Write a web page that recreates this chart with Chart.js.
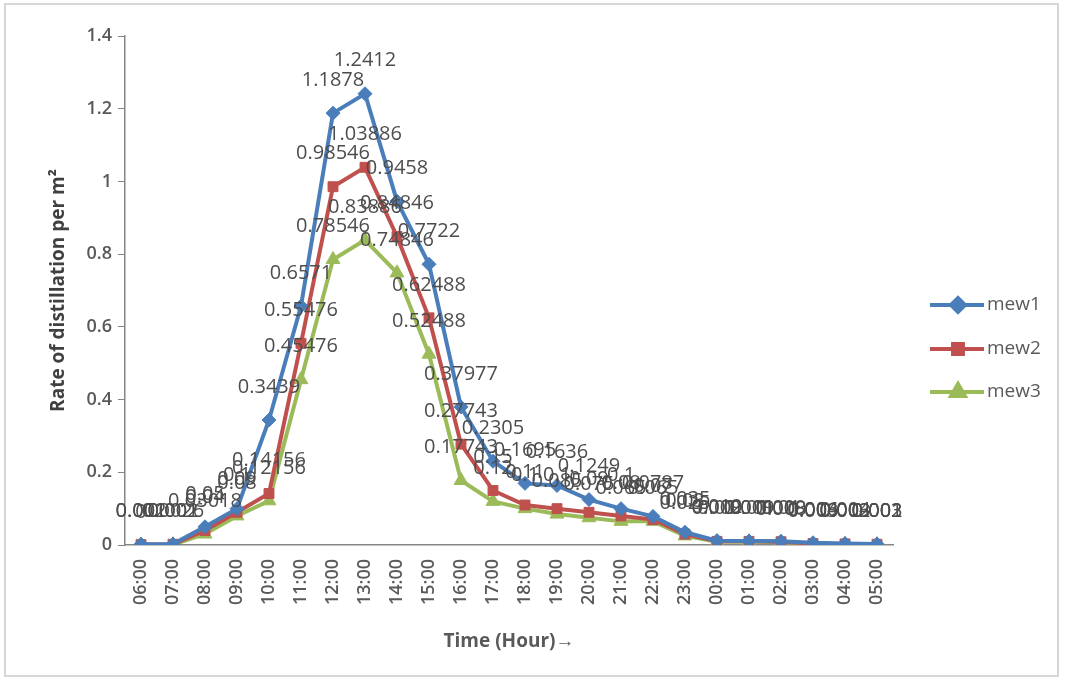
<!DOCTYPE html>
<html>
<head>
<meta charset="utf-8">
<script src="https://cdn.jsdelivr.net/npm/chart.js@4"></script>
<style>
  html, body { margin: 0; padding: 0; background: #fff; }
  #frame { position: absolute; left: 4px; top: 3px; width: 1055px; height: 674px; border: 2px solid #d6d6d6; box-sizing: border-box; }
  #wrap { position: absolute; left: 0; top: 0; width: 1065px; height: 682px; }
</style>
</head>
<body>
<div id="frame"></div>
<div id="wrap"><canvas id="chart"></canvas></div>
<script>
  // hours on the x axis
  var hours = ['06:00', '07:00', '08:00', '09:00', '10:00', '11:00', '12:00', '13:00', '14:00', '15:00', '16:00', '17:00',
               '18:00', '19:00', '20:00', '21:00', '22:00', '23:00', '00:00', '01:00', '02:00', '03:00', '04:00', '05:00'];

  // rate of distillation per m2
  var mew1 = [0.002, 0.0026, 0.05, 0.1, 0.3439, 0.6571, 1.1878, 1.2412, 0.9458, 0.7722, 0.37977, 0.2305,
              0.1695, 0.1636, 0.1249, 0.1, 0.0787, 0.035, 0.012, 0.011, 0.01, 0.006, 0.004, 0.003];
  var mew2 = [0.001, 0.002, 0.04, 0.09, 0.14156, 0.55476, 0.98546, 1.03886, 0.84846, 0.62488, 0.27743, 0.15,
              0.11, 0.1, 0.09, 0.08, 0.07, 0.03, 0.01, 0.01, 0.009, 0.004, 0.003, 0.002];
  var mew3 = [0, 0.001, 0.03018, 0.08, 0.12156, 0.45476, 0.78546, 0.83886, 0.74846, 0.52488, 0.17743, 0.12,
              0.1, 0.085, 0.075, 0.065, 0.065, 0.025, 0.009, 0.009, 0.008, 0.003, 0.002, 0.001];

  var yTicks = [0, 0.2, 0.4, 0.6, 0.8, 1, 1.2, 1.4];

  var blue = '#4a7ebb';
  var red = '#c0504d';
  var green = '#9bbb59';

  // Excel-style value labels above each point
  var valueLabels = {
    id: 'valueLabels',
    afterDatasetsDraw: function (chart) {
      var ctx = chart.ctx;
      ctx.save();
      ctx.font = '20px "Open Sans"';
      ctx.fillStyle = '#4d4d4d';
      ctx.textAlign = 'center';
      ctx.textBaseline = 'middle';
      chart.data.datasets.forEach(function (ds, i) {
        chart.getDatasetMeta(i).data.forEach(function (pt, j) {
          ctx.fillText(String(ds.data[j]), pt.x, pt.y - 33);
        });
      });
      ctx.restore();
    }
  };

  // legend on the right: line with marker, then name
  var sideLegend = {
    id: 'sideLegend',
    afterDraw: function (chart) {
      var ctx = chart.ctx;
      var rows = [305, 349, 392];
      ctx.save();
      chart.data.datasets.forEach(function (ds, i) {
        var y = rows[i];
        ctx.strokeStyle = ds.borderColor;
        ctx.lineWidth = 4;
        ctx.beginPath();
        ctx.moveTo(930, y);
        ctx.lineTo(984, y);
        ctx.stroke();
        Chart.helpers.drawPoint(ctx, {
          pointStyle: ds.pointStyle, radius: ds.pointRadius, borderWidth: 1
        }, 958, y);
        ctx.fillStyle = ds.backgroundColor;
        ctx.fill();
        ctx.font = '19px "Open Sans"';
        ctx.fillStyle = '#595959';
        ctx.textAlign = 'left';
        ctx.textBaseline = 'middle';
        ctx.fillText(ds.label, 987, y);
      });
      ctx.restore();
    }
  };

  function series(label, values, color, style, r) {
    return {
      label: label,
      data: values,
      borderColor: color,
      backgroundColor: color,
      borderWidth: 4,
      pointStyle: style,
      pointRadius: r,
      pointBorderWidth: 1,
      tension: 0
    };
  }

  var ctx = document.getElementById('chart').getContext('2d');
  var chart = new Chart(ctx, {
    type: 'line',
    data: {
      labels: hours,
      datasets: [
        series('mew1', mew1, blue, 'rectRot', 7),
        series('mew2', mew2, red, 'rect', 7),
        series('mew3', mew3, green, 'triangle', 8)
      ]
    },
    plugins: [valueLabels, sideLegend],
    options: {
      responsive: true,
      maintainAspectRatio: false,
      animation: false,
      layout: { padding: { left: 0, right: 172, top: 36, bottom: 0 } },
      plugins: { legend: { display: false }, tooltip: { enabled: false } },
      scales: {
        x: {
          offset: true,
          afterFit: function (s) { s.height = 137; },
          grid: { display: false },
          border: { color: '#868686', width: 1.5 },
          ticks: {
            autoSkip: false, maxRotation: 90, minRotation: 90,
            color: '#595959', font: { family: 'Open Sans', size: 18, weight: '600' }, padding: 6
          },
          title: {
            display: true, text: 'Time (Hour)\u2192', color: '#595959',
            font: { family: 'Open Sans', size: 19, weight: 'bold' }, padding: { top: 0, bottom: 29 }
          }
        },
        y: {
          min: 0, max: 1.4,
          afterFit: function (s) { s.width = 125; },
          afterBuildTicks: function (s) { s.ticks = yTicks.map(function (v) { return { value: v }; }); },
          grid: { drawOnChartArea: false, drawTicks: true, tickLength: 7, color: '#868686' },
          border: { color: '#868686', width: 1.5 },
          ticks: {
            color: '#595959', font: { family: 'Open Sans', size: 18, weight: '600' }, padding: 6,
            callback: function (v) { return String(v); }
          },
          title: {
            display: true, text: 'Rate of distillation per m\u00b2', color: '#404040',
            font: { family: 'Open Sans', size: 19, weight: 'bold' }, padding: { top: 47, bottom: 0 }
          }
        }
      }
    }
  });
</script>
</body>
</html>
